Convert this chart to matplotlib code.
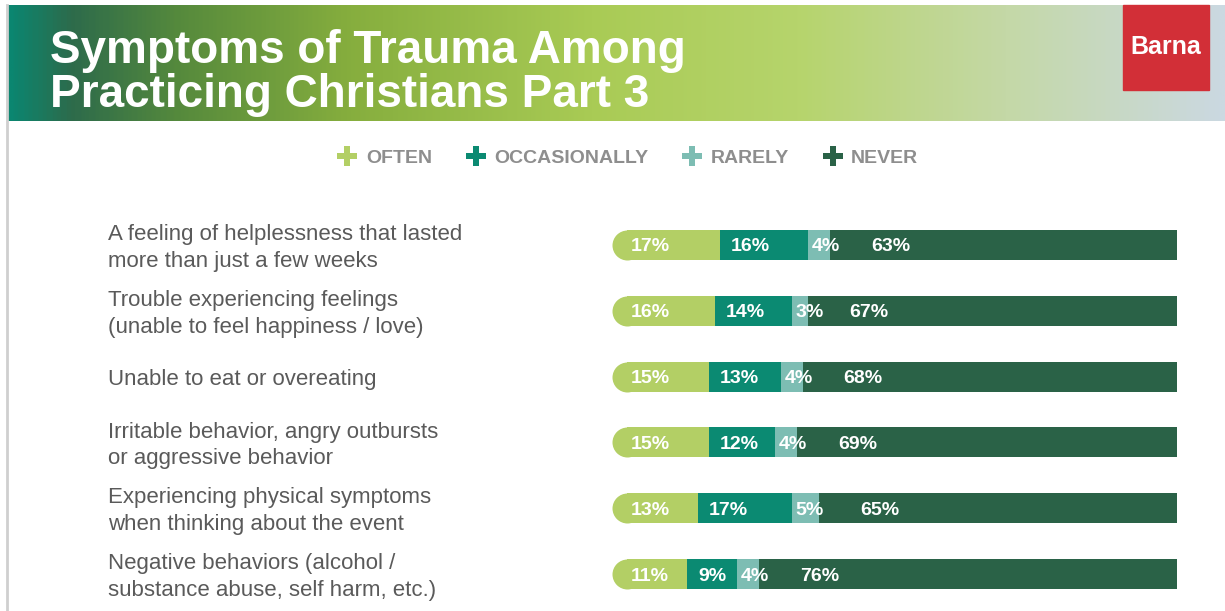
import numpy as np
import matplotlib
matplotlib.use('Agg')
import matplotlib.pyplot as plt
from matplotlib.colors import LinearSegmentedColormap
from matplotlib.lines import Line2D
from matplotlib.patches import Rectangle
import matplotlib.transforms as mtransforms

plt.rcParams['font.family'] = ['Liberation Sans', 'DejaVu Sans']

# data
categories = [
    'A feeling of helplessness that lasted\nmore than just a few weeks',
    'Trouble experiencing feelings\n(unable to feel happiness / love)',
    'Unable to eat or overeating',
    'Irritable behavior, angry outbursts\nor aggressive behavior',
    'Experiencing physical symptoms\nwhen thinking about the event',
    'Negative behaviors (alcohol /\nsubstance abuse, self harm, etc.)',
]
series = ['OFTEN', 'OCCASIONALLY', 'RARELY', 'NEVER']
often = [17, 16, 15, 15, 13, 11]
occasionally = [16, 14, 13, 12, 17, 9]
rarely = [4, 3, 4, 4, 5, 4]
never = [63, 67, 68, 69, 65, 76]

colors = ['#b3cf65', '#0b8a72', '#7dbdb3', '#2a6247']
label_pad = [0.7, 2.0, 0.7, 7.5]

W, H = 1225, 611
fig = plt.figure(figsize=(W / 100, H / 100), dpi=100)
fig.patch.set_facecolor('white')


def fx(px):
    return px / W


def fy(py):
    return 1 - py / H


# header banner with gradient
ban = fig.add_axes([fx(8), fy(121), fx(1217), 116 / H])
stops = [(0.0, '#0b8670'), (0.05, '#2d6b4b'), (0.14, '#568a3c'),
         (0.28, '#86ae3e'), (0.48, '#a9cb55'), (0.65, '#b6d46c'),
         (0.82, '#c4d8a6'), (1.0, '#cbd9e1')]
cmap = LinearSegmentedColormap.from_list('banner', stops)
grad = np.linspace(0, 1, 600)[None, :]
ban.imshow(grad, aspect='auto', cmap=cmap, extent=[0, 1, 0, 1])
ban.set_axis_off()

fig.text(fx(50), fy(63), 'Symptoms of Trauma Among', color='white',
         fontsize=33, fontweight='bold', va='baseline', ha='left')
fig.text(fx(50), fy(107), 'Practicing Christians Part 3', color='white',
         fontsize=33, fontweight='bold', va='baseline', ha='left')

# logo
fig.patches.append(Rectangle((fx(1123), fy(90)), fx(86), 85 / H,
                             transform=fig.transFigure, color='#d22f37',
                             zorder=3))
fig.text(fx(1166), fy(47), 'Barna', color='white', fontsize=18,
         fontweight='bold', ha='center', va='center', zorder=4)

# left gray rule
fig.lines.append(Line2D([fx(7), fx(7)], [fy(5), 0], transform=fig.transFigure,
                        color='#cfcfcf', lw=2))

# legend
handles = [Line2D([], [], marker='P', color=c, linestyle='none',
                  markersize=15, markeredgewidth=0) for c in colors]
leg = fig.legend(handles, series, loc='center', bbox_to_anchor=(fx(628), fy(158)),
                 ncol=4, frameon=False, handletextpad=0.45, columnspacing=1.75,
                 handlelength=1.0, prop={'weight': 'bold', 'size': 14})
for t in leg.get_texts():
    t.set_color('#8e8e8e')

# bars
ax = fig.add_axes([fx(626.5), fy(607), 550 / W, 395 / H])
n = len(categories)
y = np.arange(n)
vals = np.array([often, occasionally, rarely, never], dtype=float)
h = 30 / 65.8
left = np.zeros(n)
ax.scatter(np.zeros(n), y, s=21.6 ** 2, color=colors[0], marker='o',
           linewidths=0, clip_on=False, zorder=1)
for k in range(4):
    ax.barh(y, vals[k], left=left, height=h, color=colors[k], zorder=2,
            linewidth=0)
    for i in range(n):
        ax.text(left[i] + label_pad[k], y[i], '{:d}%'.format(int(vals[k][i])),
                color='white', fontsize=14, fontweight='bold',
                ha='left', va='center_baseline', zorder=3)
    left += vals[k]

ax.set_xlim(0, 100)
ax.set_ylim(n - 0.5, -0.5)
ax.set_axis_off()

trans = mtransforms.blended_transform_factory(fig.transFigure, ax.transData)
for i, lab in enumerate(categories):
    ax.text(fx(108), y[i] + 0.045, lab, transform=trans, ha='left', va='center',
            fontsize=16, color='#5a5a5a', linespacing=1.35, clip_on=False)

fig.savefig('out.png', dpi=100, facecolor='white')
